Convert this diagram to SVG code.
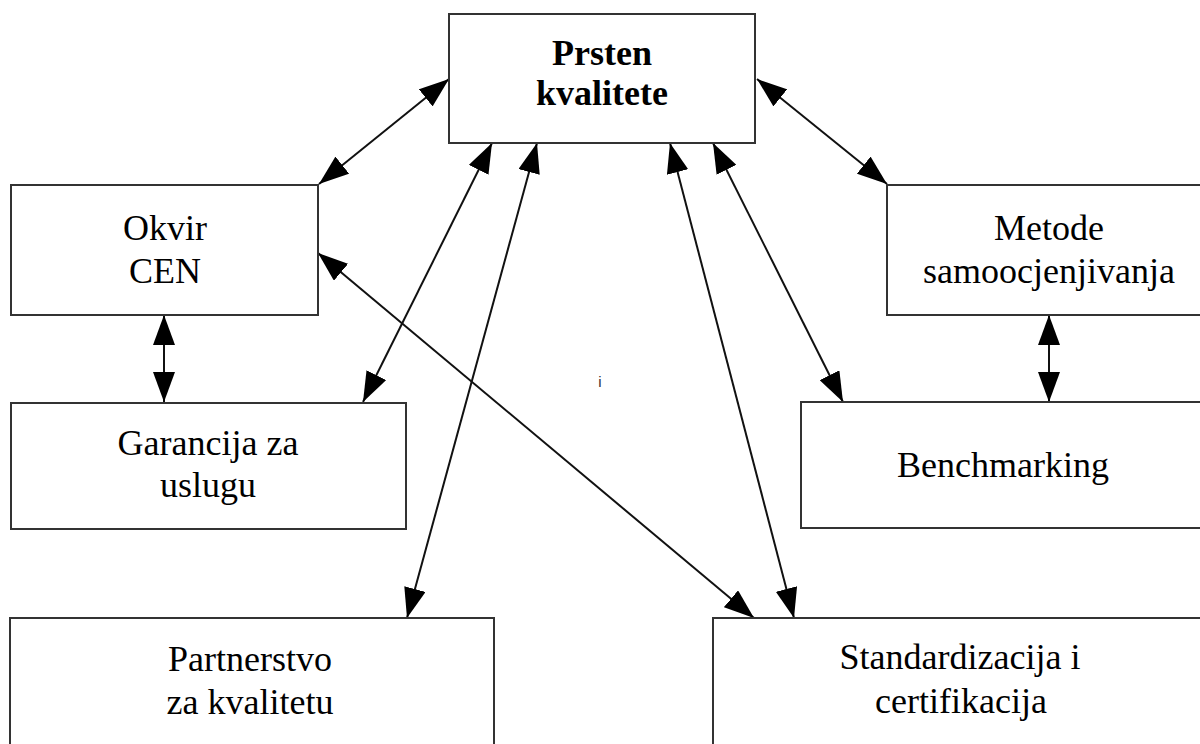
<svg xmlns="http://www.w3.org/2000/svg" width="1200" height="744" viewBox="0 0 1200 744">
<style>
.box{fill:#fff;stroke:#333;stroke-width:2}
.t{font-family:"Liberation Serif","Times New Roman",serif;font-size:36px;fill:#000;text-anchor:middle}
.b{font-weight:bold}
.c{stroke:#111;stroke-width:2;fill:none;marker-start:url(#ah);marker-end:url(#ah)}
</style>
<defs>
<marker id="ah" markerUnits="userSpaceOnUse" viewBox="0 0 30 22" markerWidth="30" markerHeight="22" refX="30" refY="11" orient="auto-start-reverse">
<path d="M0,0 L30,11 L0,22 z" fill="#000"/>
</marker>
</defs>
<rect width="1200" height="744" fill="#fff"/>
<g id="connectors">
<line class="c" x1="449" y1="79" x2="319" y2="184"/>
<line class="c" x1="757" y1="79" x2="887" y2="184"/>
<line class="c" x1="492" y1="143" x2="363" y2="402"/>
<line class="c" x1="537" y1="143" x2="407" y2="618"/>
<line class="c" x1="670" y1="143" x2="794" y2="618"/>
<line class="c" x1="713" y1="143" x2="843" y2="402"/>
<line class="c" x1="318" y1="253" x2="754" y2="618"/>
<line class="c" x1="164" y1="315" x2="164" y2="402"/>
<line class="c" x1="1049" y1="315" x2="1049" y2="402"/>
</g>
<g id="prsten">
<rect class="box" x="449" y="14" width="306" height="129"/>
<text class="t b" x="602" y="65">Prsten</text>
<text class="t b" x="602" y="105">kvalitete</text>
</g>
<g id="okvir">
<rect class="box" x="11" y="185" width="307" height="130"/>
<text class="t" x="165" y="240">Okvir</text>
<text class="t" x="165" y="283">CEN</text>
</g>
<g id="metode">
<rect class="box" x="887" y="185" width="330" height="130"/>
<text class="t" x="1049" y="240">Metode</text>
<text class="t" x="1049" y="283">samoocjenjivanja</text>
</g>
<g id="garancija">
<rect class="box" x="11" y="403" width="395" height="126"/>
<text class="t" x="208" y="455">Garancija za</text>
<text class="t" x="208" y="497">uslugu</text>
</g>
<g id="benchmarking">
<rect class="box" x="801" y="402" width="420" height="126"/>
<text class="t" x="1003" y="477">Benchmarking</text>
</g>
<g id="partnerstvo">
<rect class="box" x="10" y="618" width="484" height="140"/>
<text class="t" x="250" y="671">Partnerstvo</text>
<text class="t" x="250" y="714">za kvalitetu</text>
</g>
<g id="standardizacija">
<rect class="box" x="713" y="618" width="510" height="140"/>
<text class="t" x="960" y="669">Standardizacija i</text>
<text class="t" x="961" y="713">certifikacija</text>
</g>
<text x="600" y="387" style="font-family:'Liberation Sans',Arial,sans-serif;font-size:15px;fill:#333;text-anchor:middle">i</text>
</svg>
